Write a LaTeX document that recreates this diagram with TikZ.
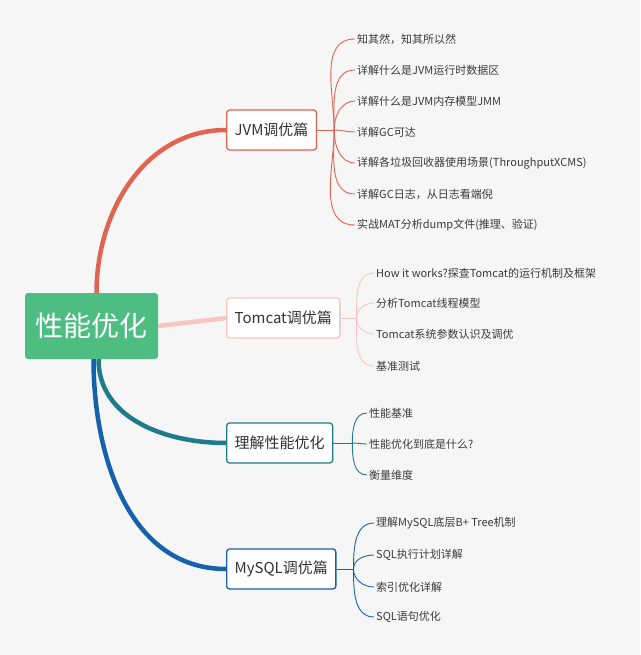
\documentclass[tikz,border=0pt]{standalone}
\usepackage{fontspec}
\setmainfont{Noto Sans CJK SC}
\usepackage{xcolor}
\usetikzlibrary{positioning,calc}

\definecolor{bggrey}{HTML}{F6F6F6}
\definecolor{rootgreen}{HTML}{4DBD82}
\definecolor{jvmred}{HTML}{E0644F}
\definecolor{tompink}{HTML}{F7C6C2}
\definecolor{perfteal}{HTML}{1E7B8B}
\definecolor{sqlblue}{HTML}{1561AB}
\definecolor{leafgrey}{HTML}{3A3A3A}

\tikzset{
  root/.style={fill=rootgreen, rounded corners=3pt, text=white, inner sep=0pt,
    minimum width=133pt, minimum height=66pt, font=\fontsize{28}{32}\selectfont},
  topic/.style={draw=#1, line width=1.3pt, fill=white, rounded corners=3pt, anchor=west,
    minimum height=40pt, inner xsep=8pt, text=black!80, font=\fontsize{15}{18}\selectfont},
  leaf/.style={anchor=west, inner sep=2pt, text=leafgrey, font=\fontsize{11}{13}\selectfont},
  trunk/.style={draw=#1, line width=4.5pt},
  twig/.style={draw=#1, line width=0.9pt},
}

\begin{document}
\begin{tikzpicture}[x=1pt,y=1pt]
    \fill[bggrey] (0,0) rectangle (640,-655);
    \useasboundingbox (0,0) rectangle (640,-655);

    % Root
    \node[root] (root) at (91.5,-326) {性能优化};

    % Topics
    \node[topic=jvmred] (jvm) at (226,-130) {JVM调优篇};
    \node[topic=tompink] (tomcat) at (226,-318) {Tomcat调优篇};
    \node[topic=perfteal] (perf) at (226,-443) {理解性能优化};
    \node[topic=sqlblue] (mysql) at (226,-569) {MySQL调优篇};

    % Trunks
    \draw[trunk=jvmred] ([xshift=5pt]root.north) to[out=90,in=180] (jvm.west);
    \draw[trunk=tompink] (root.east) -- (tomcat.west);
    \draw[trunk=perfteal] ([xshift=7pt]root.south) to[out=-90,in=180] (perf.west);
    \draw[trunk=sqlblue] ([xshift=2pt]root.south) to[out=-90,in=180] (mysql.west);

    % JVM leaves
    \coordinate (jb) at ($(jvm.east)+(17,0)$);
    \draw[twig=jvmred] (jvm.east) -- (jb);
    \foreach \txt/\yy/\ang [count=\i] in {知其然，知其所以然/-39/90, 详解什么是JVM运行时数据区/-70/90,
        详解什么是JVM内存模型JMM/-101/90, 详解GC可达/-132/0,
        详解各垃圾回收器使用场景(ThroughputXCMS)/-163/-90, 详解GC日志，从日志看端倪/-194/-90,
        实战MAT分析dump文件(推理、验证)/-225/-90} {
      \node[leaf] (jvm\i) at (355,\yy) {\txt};
      \draw[twig=jvmred] (jb) to[out=\ang,in=180] (jvm\i.west);
    }

    % Tomcat leaves
    \coordinate (tb) at ($(tomcat.east)+(16,0)$);
    \draw[twig=tompink] (tomcat.east) -- (tb);
    \foreach \txt/\yy/\ang [count=\i] in {How it works?探查Tomcat的运行机制及框架/-273/90,
        分析Tomcat线程模型/-303/90, Tomcat系统参数认识及调优/-334/-90, 基准测试/-366/-90} {
      \node[leaf] (tom\i) at (374,\yy) {\txt};
      \draw[twig=tompink] (tb) to[out=\ang,in=180] (tom\i.west);
    }

    % Perf leaves
    \coordinate (pb) at ($(perf.east)+(19,0)$);
    \draw[twig=perfteal] (perf.east) -- (pb);
    \foreach \txt/\yy/\ang [count=\i] in {性能基准/-413/90, 性能优化到底是什么?/-444/0, 衡量维度/-475/-90} {
      \node[leaf] (perf\i) at (367,\yy) {\txt};
      \draw[twig=perfteal] (pb) to[out=\ang,in=180] (perf\i.west);
    }

    % MySQL leaves
    \coordinate (sb) at ($(mysql.east)+(17,0)$);
    \draw[twig=sqlblue] (mysql.east) -- (sb);
    \foreach \txt/\yy/\ang [count=\i] in {理解MySQL底层B+ Tree机制/-523/90, SQL执行计划详解/-555/90,
        索引优化详解/-587/-90, SQL语句优化/-617/-90} {
      \node[leaf] (sql\i) at (374,\yy) {\txt};
      \draw[twig=sqlblue] (sb) to[out=\ang,in=180] (sql\i.west);
    }
\end{tikzpicture}
\end{document}
